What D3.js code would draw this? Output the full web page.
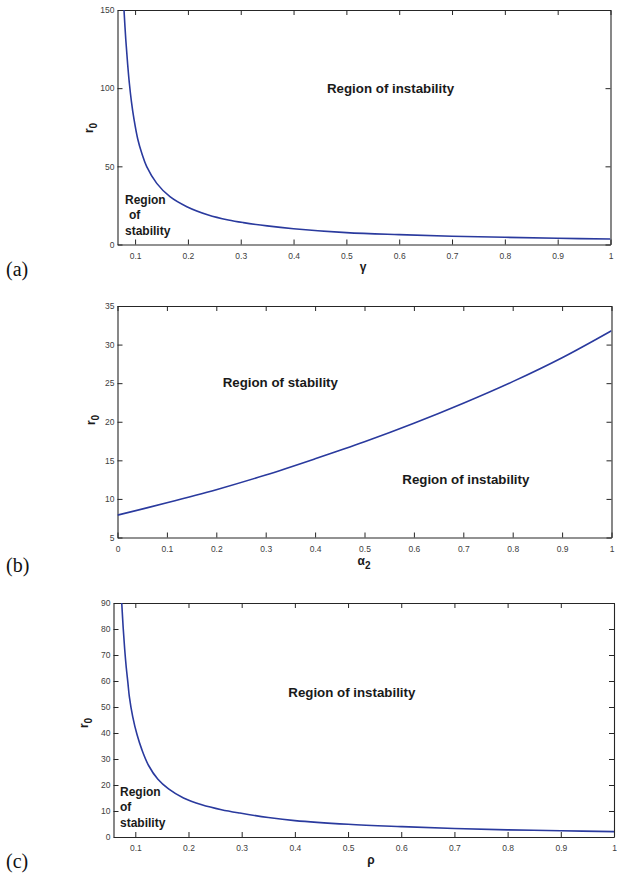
<!DOCTYPE html>
<html>
<head>
<meta charset="utf-8">
<script src="https://cdn.jsdelivr.net/npm/d3@7"></script>
<style>
  body { margin: 0; background: #fff; }
  svg { display: block; }
</style>
</head>
<body>
<svg id="fig" width="617" height="879"></svg>
<script>
// (a) stability boundary r0 as a function of gamma
const gammaVals = [0.079, 0.0824, 0.086, 0.089, 0.093, 0.098, 0.105, 0.113, 0.122, 0.141, 0.166, 0.198, 0.2386, 0.2765, 0.305, 0.35, 0.4, 0.5, 0.6, 0.7, 0.8, 0.9, 1.0];
const r0Gamma   = [150, 131, 115, 103.6, 91.6, 80, 67.5, 58, 49.8, 39.1, 30.6, 24.2, 18.9, 15.7, 14, 11.9, 10.1, 7.6, 6.3, 5.3, 4.6, 4.0, 3.5];
const gammaTicks = [0.1, 0.2, 0.3, 0.4, 0.5, 0.6, 0.7, 0.8, 0.9, 1];
const r0GammaTicks = [0, 50, 100, 150];

// (b) stability boundary r0 as a function of alpha_2
const alpha2Vals = [0, 0.1, 0.2, 0.3, 0.4, 0.5, 0.6, 0.7, 0.8, 0.9, 1.0];
const r0Alpha2   = [7.9, 9.5, 11.2, 13.1, 15.2, 17.4, 19.8, 22.4, 25.2, 28.3, 31.8];
const alpha2Ticks = [0, 0.1, 0.2, 0.3, 0.4, 0.5, 0.6, 0.7, 0.8, 0.9, 1];
const r0Alpha2Ticks = [5, 10, 15, 20, 25, 30, 35];

// (c) stability boundary r0 as a function of rho
const rhoVals = [0.0745, 0.0772, 0.080, 0.083, 0.086, 0.0888, 0.0951, 0.1032, 0.1125, 0.125, 0.1425, 0.1625, 0.1906, 0.225, 0.262, 0.2966, 0.35, 0.4, 0.5, 0.6, 0.7, 0.8, 0.9, 1.0];
const r0Rho   = [90, 80.5, 72.3, 65.2, 59.5, 54, 46.3, 39.4, 33.5, 27.5, 22.2, 18.5, 15, 12.4, 10.5, 9.2, 7.5, 6.3, 4.9, 4.0, 3.25, 2.75, 2.4, 2.05];
const rhoTicks = [0.1, 0.2, 0.3, 0.4, 0.5, 0.6, 0.7, 0.8, 0.9, 1];
const r0RhoTicks = [0, 10, 20, 30, 40, 50, 60, 70, 80, 90];

const svg = d3.select("#fig");
const LINE = "#2a3a9e";
const AXIS = "#262626";
const TICKTXT = "#404040";
const SANS = "'Liberation Sans', Arial, Helvetica, sans-serif";
const fmt = d3.format("~g");

function panel(cfg) {
  const x = d3.scaleLinear().domain(cfg.xDomain).range([cfg.left, cfg.right]);
  const y = d3.scaleLinear().domain(cfg.yDomain).range([cfg.bottom, cfg.top]);
  const g = svg.append("g");
  const clipId = "clip-" + cfg.id;
  g.append("clipPath").attr("id", clipId).append("rect")
    .attr("x", cfg.left).attr("y", cfg.top)
    .attr("width", cfg.right - cfg.left).attr("height", cfg.bottom - cfg.top);

  const tickLen = 5;
  // bottom axis with inward ticks
  const bx = g.append("g").attr("transform", `translate(0,${cfg.bottom})`)
    .call(d3.axisBottom(x).tickValues(cfg.xTicks).tickSizeInner(-tickLen).tickSizeOuter(0).tickPadding(8).tickFormat(fmt));
  // left axis with inward ticks
  const ly = g.append("g").attr("transform", `translate(${cfg.left},0)`)
    .call(d3.axisLeft(y).tickValues(cfg.yTicks).tickSizeInner(-tickLen).tickSizeOuter(0).tickPadding(3).tickFormat(fmt));
  // mirrored ticks on top and right
  const tx = g.append("g").attr("transform", `translate(0,${cfg.top})`)
    .call(d3.axisTop(x).tickValues(cfg.xTicks).tickSizeInner(-tickLen).tickSizeOuter(0).tickFormat(""));
  const ry = g.append("g").attr("transform", `translate(${cfg.right},0)`)
    .call(d3.axisRight(y).tickValues(cfg.yTicks).tickSizeInner(-tickLen).tickSizeOuter(0).tickFormat(""));

  [bx, ly, tx, ry].forEach(a => {
    a.select(".domain").attr("stroke", AXIS).attr("stroke-width", 1.1);
    a.selectAll(".tick line").attr("stroke", AXIS).attr("stroke-width", 1);
    a.selectAll(".tick text").attr("fill", TICKTXT).style("font-family", SANS).style("font-size", "8.5px");
  });

  // boundary curve
  const line = d3.line().x((d, i) => x(cfg.xs[i])).y(d => y(d)).curve(d3.curveCatmullRom.alpha(0.5));
  g.append("path").datum(cfg.ys)
    .attr("clip-path", `url(#${clipId})`)
    .attr("d", line).attr("fill", "none")
    .attr("stroke", LINE).attr("stroke-width", 1.6);

  // y-axis title r_0
  const yt = g.append("text")
    .attr("transform", `translate(${cfg.yLabel[0]},${cfg.yLabel[1]}) rotate(-90)`)
    .attr("text-anchor", "middle")
    .style("font-family", SANS).style("font-weight", "bold").style("font-size", "12px").attr("fill", "#1a1a1a");
  yt.append("tspan").text("r");
  yt.append("tspan").attr("dy", 4).style("font-size", "10px").text("0");

  // x-axis title
  const xt = g.append("text")
    .attr("x", cfg.xLabel[0]).attr("y", cfg.xLabel[1]).attr("text-anchor", "middle")
    .style("font-family", SANS).style("font-weight", "bold").style("font-size", "12px").attr("fill", "#1a1a1a");
  xt.append("tspan").text(cfg.xName);
  if (cfg.xSub) xt.append("tspan").attr("dy", 4).style("font-size", "10px").text(cfg.xSub);

  // region annotations
  cfg.notes.forEach(n => {
    const t = g.append("text").attr("x", n.x).attr("y", n.y)
      .style("font-family", SANS).style("font-weight", "bold").style("font-size", n.size + "px").attr("fill", "#1a1a1a");
    n.lines.forEach((s, i) => {
      t.append("tspan").attr("x", n.x + (n.indent && n.indent[i] ? n.indent[i] : 0))
        .attr("dy", i === 0 ? 0 : 15.8).text(s);
    });
  });

  // panel letter
  svg.append("text").attr("x", cfg.tag[0]).attr("y", cfg.tag[1])
    .style("font-family", "'Liberation Serif', 'DejaVu Serif', serif").style("font-size", "20px")
    .attr("fill", "#111").text(cfg.tagText);
}

panel({
  id: "a", left: 117.5, right: 610.5, top: 10, bottom: 244.5,
  xDomain: [0.0667, 1], yDomain: [0, 150],
  xTicks: gammaTicks, yTicks: r0GammaTicks,
  xs: gammaVals, ys: r0Gamma,
  yLabel: [93, 128], xLabel: [363, 271], xName: "\u03b3",
  notes: [
    { x: 327, y: 92.5, size: 13.3, lines: ["Region of instability"] },
    { x: 125, y: 203.5, size: 12, lines: ["Region", "of", "stability"], indent: [0, 4, 0] }
  ],
  tag: [6, 276], tagText: "(a)"
});

panel({
  id: "b", left: 117.5, right: 611.5, top: 306, bottom: 537.5,
  xDomain: [0, 1], yDomain: [5, 35],
  xTicks: alpha2Ticks, yTicks: r0Alpha2Ticks,
  xs: alpha2Vals, ys: r0Alpha2,
  yLabel: [95, 420], xLabel: [364, 565], xName: "\u03b1", xSub: "2",
  notes: [
    { x: 222.7, y: 386.5, size: 13.3, lines: ["Region of stability"] },
    { x: 402.3, y: 484, size: 13.3, lines: ["Region of instability"] }
  ],
  tag: [6, 572], tagText: "(b)"
});

panel({
  id: "c", left: 113.5, right: 614, top: 603, bottom: 837,
  xDomain: [0.059, 1], yDomain: [0, 90],
  xTicks: rhoTicks, yTicks: r0RhoTicks,
  xs: rhoVals, ys: r0Rho,
  yLabel: [88, 723], xLabel: [371, 864], xName: "\u03c1",
  notes: [
    { x: 288.3, y: 697, size: 13.3, lines: ["Region of instability"] },
    { x: 120, y: 795.5, size: 12, lines: ["Region", "of", "stability"] }
  ],
  tag: [6, 868], tagText: "(c)"
});
</script>
</body>
</html>
